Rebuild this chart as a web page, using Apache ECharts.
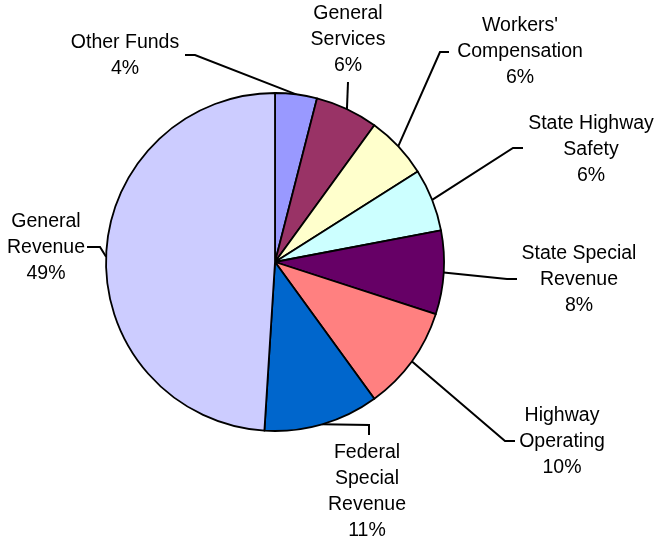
<!DOCTYPE html>
<html>
<head>
<meta charset="utf-8">
<script src="https://cdn.jsdelivr.net/npm/echarts@6/dist/echarts.min.js"></script>
<style>
  html, body { margin: 0; padding: 0; background: #ffffff; }
  #chart { width: 656px; height: 540px; }
</style>
</head>
<body>
<div id="chart"></div>
<script>
// Fund sources, clockwise from twelve o'clock
const categories = [
  "Other Funds", "General Services", "Workers' Compensation", "State Highway Safety",
  "State Special Revenue", "Highway Operating", "Federal Special Revenue", "General Revenue"
];
const labelNames = [
  "Other Funds", "General\nServices", "Workers'\nCompensation", "State Highway\nSafety",
  "State Special\nRevenue", "Highway\nOperating", "Federal\nSpecial\nRevenue", "General\nRevenue"
];
const shares = [4, 6, 6, 6, 8, 10, 11, 49];
const colors = ["#9999FF", "#993366", "#FFFFCC", "#CCFFFF", "#660066", "#FF8080", "#0066CC", "#CCCCFF"];

// Label placement: text centre, then the leader line's bend and end points
const placement = [
  { text: [125, 56],  bend: [195, 55],  end: [185, 55] },
  { text: [348, 40],  bend: [348, 82],  end: [348, 82] },
  { text: [520, 52],  bend: [440, 52],  end: [449, 52] },
  { text: [591, 150], bend: [513, 148], end: [523, 148] },
  { text: [579, 280], bend: [507, 279], end: [517, 279] },
  { text: [562, 442], bend: [505, 441], end: [515, 441] },
  { text: [367, 492], bend: [369, 425], end: [369, 435] },
  { text: [46, 248],  bend: [100, 247], end: [87, 247] }
];

const chart = echarts.init(document.getElementById('chart'), null, { renderer: 'canvas' });

chart.setOption({
  backgroundColor: '#ffffff',
  animation: false,
  series: [{
    type: 'pie',
    center: [275, 262],
    radius: 169,
    startAngle: 90,
    clockwise: true,
    avoidLabelOverlap: false,
    data: categories.map((name, i) => ({
      name: name,
      value: shares[i],
      itemStyle: { color: colors[i] }
    })),
    itemStyle: { borderColor: '#000000', borderWidth: 1.8 },
    label: {
      show: true,
      position: 'outside',
      formatter: p => labelNames[p.dataIndex] + '\n' + p.value + '%',
      fontFamily: 'Liberation Sans, Arial, sans-serif',
      fontSize: 19.5,
      lineHeight: 26,
      color: '#000000',
      align: 'center'
    },
    labelLine: {
      show: true,
      length: 20,
      length2: 10,
      lineStyle: { color: '#000000', width: 2 }
    },
    emphasis: { disabled: true },
    labelLayout: function (params) {
      const p = placement[params.dataIndex];
      const edge = params.labelLinePoints ? params.labelLinePoints[0] : p.bend;
      return {
        x: p.text[0],
        y: p.text[1],
        align: 'center',
        verticalAlign: 'middle',
        labelLinePoints: [edge, p.bend, p.end]
      };
    }
  }]
});
</script>
</body>
</html>
